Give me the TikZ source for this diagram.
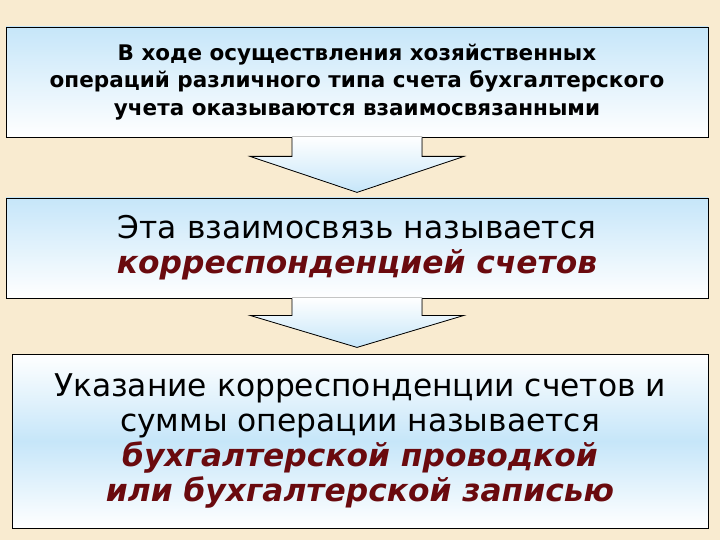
\documentclass[tikz,border=0pt]{standalone}
\usepackage{fontspec}
\setmainfont{DejaVu Sans}
\usetikzlibrary{calc}
\definecolor{parchment}{HTML}{F9EBD0}
\definecolor{paleblue}{HTML}{C6E6F9}
\definecolor{darkred}{HTML}{6A0A0E}
\begin{document}
\begin{tikzpicture}[x=1pt,y=-1pt,
  box/.style={draw=black,line width=0.8pt,rectangle,align=center,inner sep=0pt}]
  \fill[parchment](0,0)rectangle(720,540);
  \useasboundingbox(0,0)rectangle(720,540);
  % three boxes
  \node[box,top color=paleblue,bottom color=white,minimum width=702pt,minimum height=110pt,
    font=\bfseries\fontsize{21.5}{27.5}\selectfont] (ops) at (357,82)
    {В ходе осуществления хозяйственных\\операций различного типа счета бухгалтерского\\учета оказываются взаимосвязанными};
  \node[box,top color=paleblue,bottom color=white,minimum width=702pt,minimum height=100pt,
    font=\fontsize{31.3}{35}\selectfont] (corr) at (357,248)
    {Эта взаимосвязь называется\\{\color{darkred}\bfseries\itshape корреспонденцией счетов}};
  \node[box,top color=white,bottom color=white,middle color=paleblue,minimum width=696pt,minimum height=174pt,
    font=\fontsize{31.3}{35}\selectfont] (entry) at (360,441)
    {Указание корреспонденции счетов и\\суммы операции называется\\{\color{darkred}\bfseries\itshape бухгалтерской проводкой}\\{\color{darkred}\bfseries\itshape или бухгалтерской записью}};
  % block arrows
  \fill[top color=white,bottom color=paleblue]($(ops.south)+(-65,-1)$)--++(0,20)--++(-42,0)--($(ops.south)+(0,55)$)
    --($(ops.south)+(107,19)$)--++(-42,0)--++(0,-20)--cycle;
  \draw[line width=0.8pt]($(ops.south)+(-65,0)$)--++(0,19)--++(-42,0)--($(ops.south)+(0,55)$)
    --($(ops.south)+(107,19)$)--++(-42,0)--++(0,-19);
  \fill[top color=white,bottom color=paleblue]($(corr.south)+(-65,-1)$)--++(0,18)--++(-42,0)--($(corr.south)+(0,49)$)
    --($(corr.south)+(107,17)$)--++(-42,0)--++(0,-18)--cycle;
  \draw[line width=0.8pt]($(corr.south)+(-65,0)$)--++(0,17)--++(-42,0)--($(corr.south)+(0,49)$)
    --($(corr.south)+(107,17)$)--++(-42,0)--++(0,-17);
\end{tikzpicture}
\end{document}
